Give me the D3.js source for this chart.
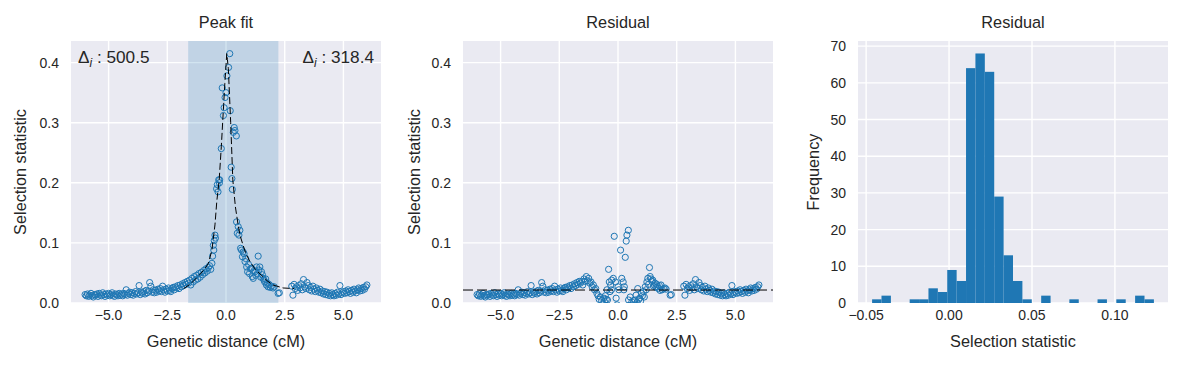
<!DOCTYPE html>
<html><head><meta charset="utf-8">
<script src="https://cdn.jsdelivr.net/npm/d3@7"></script>
<style>
body{margin:0;background:#fff}
svg text{font-family:"Liberation Sans",Arial,sans-serif;fill:#262626}
</style>
</head><body>
<svg id="chart" width="1182" height="368"></svg>
<script>
// ---------------- data ----------------
const genDist = [
 -6.00,-5.95,-5.90,-5.85,-5.80,-5.75,-5.70,-5.65,-5.60,-5.55,-5.50,-5.45,-5.40,-5.35,-5.30,-5.25,-5.20,-5.15,-5.10,-5.05,-5.00,-4.95,-4.90,-4.85,-4.80,-4.75,-4.70,-4.65,-4.60,-4.55,
 -4.50,-4.45,-4.40,-4.35,-4.30,-4.25,-4.20,-4.15,-4.10,-4.05,-4.00,-3.95,-3.90,-3.85,-3.80,-3.75,-3.70,-3.65,-3.60,-3.55,-3.50,-3.45,-3.40,-3.35,-3.30,-3.25,-3.20,-3.15,-3.10,-3.05,
 -3.00,-2.95,-2.90,-2.85,-2.80,-2.75,-2.70,-2.65,-2.60,-2.55,-2.50,-2.45,-2.40,-2.35,-2.30,-2.25,-2.20,-2.15,-2.10,-2.05,-2.00,-1.95,-1.90,-1.85,-1.80,-1.75,-1.70,-1.65,
 -1.60,-1.55,-1.50,-1.45,-1.40,-1.35,-1.30,-1.25,-1.20,-1.15,-1.10,-1.05,-1.00,-0.95,-0.90,-0.85,-0.80,-0.75,-0.70,-0.65,-0.60,-0.57,-0.54,-0.52,-0.50,-0.47,-0.45,
 -0.40,-0.37,-0.34,-0.31,-0.28,-0.27,-0.20,-0.16,-0.11,-0.08,-0.04,0.00,0.04,0.11,0.16,0.18,0.22,0.25,0.27,0.31,0.35,0.38,0.44,
 0.45,0.48,0.52,0.55,0.59,0.62,0.66,0.70,0.73,0.77,0.81,0.84,0.88,0.92,0.96,1.00,1.04,1.09,1.12,1.16,1.20,1.23,1.27,1.30,1.34,1.37,1.40,1.44,1.48,1.51,1.55,1.58,1.62,1.65,1.69,1.72,1.76,1.79,1.83,1.88,1.94,2.00,2.05,2.22,2.27,
 2.80,2.85,2.90,2.95,3.00,3.05,3.10,3.15,3.20,3.25,3.30,3.35,3.40,3.45,3.50,3.55,3.60,3.65,3.70,3.75,3.80,3.85,3.90,3.95,4.00,4.05,4.10,4.15,4.20,4.25,4.30,4.35,4.40,4.45,4.50,4.55,4.60,4.65,4.70,4.75,4.80,4.85,4.90,4.95,5.00,5.05,5.10,5.15,5.20,5.25,5.30,5.35,5.40,5.45,5.50,5.55,5.60,5.65,5.70,5.75,5.80,5.85,5.90,5.95,6.00
];
const selStat = [
 0.014,0.012,0.015,0.011,0.013,0.016,0.012,0.010,0.014,0.013,0.015,0.011,0.016,0.013,0.012,0.017,0.014,0.011,0.015,0.013,0.016,0.012,0.014,0.017,0.013,0.011,0.015,0.014,0.012,0.016,
 0.013,0.015,0.012,0.016,0.014,0.022,0.013,0.016,0.018,0.014,0.017,0.013,0.016,0.019,0.015,0.017,0.029,0.014,0.018,0.016,0.019,0.015,0.021,0.017,0.020,0.034,0.028,0.018,0.022,0.017,
 0.021,0.018,0.023,0.020,0.024,0.019,0.028,0.022,0.018,0.023,0.020,0.025,0.021,0.019,0.024,0.026,0.022,0.027,0.025,0.029,0.024,0.030,0.027,0.032,0.029,0.034,0.031,0.036,
 0.033,0.038,0.030,0.041,0.035,0.044,0.038,0.046,0.040,0.049,0.043,0.051,0.047,0.054,0.050,0.057,0.053,0.059,0.062,0.056,0.066,0.078,0.096,0.088,0.104,0.113,0.108,
 0.190,0.197,0.185,0.205,0.200,0.205,0.257,0.358,0.312,0.325,0.342,0.350,0.378,0.392,0.415,0.320,0.226,0.207,0.189,0.284,0.292,0.287,0.278,
 0.135,0.116,0.127,0.113,0.121,0.091,0.088,0.077,0.085,0.082,0.069,0.074,0.060,0.052,0.064,0.049,0.057,0.058,0.044,0.041,0.054,0.052,0.046,0.060,0.049,0.078,0.055,0.060,0.043,0.052,0.047,0.041,0.038,0.035,0.040,0.030,0.033,0.027,0.031,0.026,0.028,0.025,0.027,0.016,0.017,
 0.028,0.013,0.031,0.024,0.027,0.021,0.029,0.025,0.032,0.022,0.039,0.027,0.024,0.034,0.029,0.022,0.026,0.020,0.028,0.023,0.019,0.025,0.021,0.018,0.023,0.017,0.020,0.015,0.019,0.014,0.018,0.013,0.016,0.012,0.017,0.014,0.012,0.016,0.013,0.018,0.015,0.029,0.014,0.017,0.019,0.016,0.020,0.017,0.022,0.019,0.016,0.021,0.018,0.023,0.020,0.017,0.022,0.025,0.020,0.024,0.021,0.026,0.023,0.027,0.030
];
const residual = [
 0.014,0.012,0.015,0.011,0.013,0.016,0.012,0.010,0.014,0.013,0.015,0.011,0.016,0.013,0.012,0.017,0.014,0.011,0.015,0.013,0.016,0.012,0.014,0.017,0.013,0.011,0.015,0.014,0.012,0.016,
 0.013,0.015,0.012,0.016,0.014,0.022,0.013,0.016,0.018,0.014,0.017,0.013,0.016,0.019,0.015,0.017,0.029,0.014,0.018,0.016,0.019,0.015,0.021,0.017,0.020,0.034,0.028,0.018,0.022,0.017,
 0.021,0.018,0.023,0.020,0.024,0.019,0.028,0.022,0.018,0.023,0.020,0.025,0.021,0.019,0.024,0.026,0.022,0.027,0.025,0.029,0.024,0.030,0.027,0.032,0.029,0.034,0.031,0.036,
 0.033,0.036,0.030,0.040,0.036,0.044,0.037,0.041,0.033,0.035,0.027,0.030,0.022,0.024,0.016,0.012,0.006,0.010,0.004,-0.002,0.008,0.002,0.012,-0.004,0.006,0.022,0.005,
 0.056,0.035,0.019,0.030,0.022,0.038,0.041,0.111,0.035,0.008,-0.003,0.027,0.022,0.088,0.041,-0.010,0.035,0.022,0.027,0.076,0.103,0.113,0.121,
 0.005,-0.004,0.010,-0.006,0.002,-0.008,0.004,-0.003,0.005,0.013,0.001,0.024,0.006,0.008,0.003,0.016,0.012,0.019,0.010,0.027,0.022,0.035,0.041,0.031,0.059,0.044,0.040,0.036,0.038,0.028,0.030,0.033,0.026,0.031,0.027,0.024,0.029,0.021,0.030,0.022,0.024,0.025,0.023,0.013,0.014,
 0.028,0.013,0.031,0.024,0.027,0.021,0.029,0.025,0.032,0.022,0.039,0.027,0.024,0.034,0.029,0.022,0.026,0.020,0.028,0.023,0.019,0.025,0.021,0.018,0.023,0.017,0.020,0.015,0.019,0.014,0.018,0.013,0.016,0.012,0.017,0.014,0.012,0.016,0.013,0.018,0.015,0.029,0.014,0.017,0.019,0.016,0.020,0.017,0.022,0.019,0.016,0.021,0.018,0.023,0.020,0.017,0.022,0.025,0.020,0.024,0.021,0.026,0.023,0.027,0.030
];
// fitted peak (dashed curve), drawn over the fitted window
const fitX = [-1.8,-1.5,-1.3,-1.1,-0.9,-0.75,-0.6,-0.47,-0.39,-0.29,-0.2,-0.1,-0.05,0.0,0.03,0.06,0.1,0.15,0.2,0.29,0.4,0.52,0.6,0.73,0.85,1.02,1.25,1.51,1.75,2.0,2.43,2.9];
const fitY = [0.024,0.032,0.040,0.048,0.057,0.066,0.088,0.13,0.17,0.205,0.26,0.33,0.365,0.395,0.415,0.405,0.39,0.345,0.30,0.205,0.16,0.129,0.112,0.096,0.082,0.069,0.056,0.046,0.037,0.030,0.025,0.024];
const spanRange = [-1.61, 2.23];
const deltaLeft = 500.5, deltaRight = 318.4;
const residBaseline = 0.0216;
// histogram of residuals
const histRange = [-0.0464, 0.1235];
const histCounts = [1,2,0,0,1,1,4,3,9,6,64,68,63,29,13,6,1,0,2,0,0,1,0,0,1,0,1,0,2,1];
// ticks
const distTicks = [-5, -2.5, 0, 2.5, 5];
const statTicks = [0, 0.1, 0.2, 0.3, 0.4];
const histXTicks = [-0.05, 0, 0.05, 0.10];
const freqTicks = [0, 10, 20, 30, 40, 50, 60, 70];

// ---------------- drawing ----------------
const BLUE = "#1f77b4";
const svg = d3.select("#chart");
const boxes = [
  {l:71, t:41, w:310, h:262},
  {l:463, t:41, w:310, h:262},
  {l:858, t:41, w:310, h:262}
];
const TICK_FS = 14, LAB_FS = 16.3;

function frame(i, x, y, xt, yt, xf, yf, title, xlabel, ylabel, ylabOff){
  const b = boxes[i];
  const g = svg.append("g");
  g.append("rect").attr("x", b.l).attr("y", b.t).attr("width", b.w).attr("height", b.h).attr("fill", "#eaeaf2");
  g.selectAll(".gx").data(xt).join("line")
    .attr("x1", d => x(d)).attr("x2", d => x(d)).attr("y1", b.t).attr("y2", b.t + b.h)
    .attr("stroke", "#fff").attr("stroke-width", 1.4);
  g.selectAll(".gy").data(yt).join("line")
    .attr("y1", d => y(d)).attr("y2", d => y(d)).attr("x1", b.l).attr("x2", b.l + b.w)
    .attr("stroke", "#fff").attr("stroke-width", 1.4);
  g.selectAll(".tx").data(xt).join("text")
    .attr("x", d => x(d)).attr("y", b.t + b.h + 6).attr("dy", "0.76em")
    .attr("text-anchor", "middle").attr("font-size", TICK_FS).text(xf);
  g.selectAll(".ty").data(yt).join("text")
    .attr("x", b.l - 12).attr("y", d => y(d)).attr("dy", "0.36em")
    .attr("text-anchor", "end").attr("font-size", TICK_FS).text(yf);
  g.append("text").attr("x", b.l + b.w/2).attr("y", 28).attr("text-anchor", "middle")
    .attr("font-size", LAB_FS).text(title);
  g.append("text").attr("x", b.l + b.w/2).attr("y", 347).attr("text-anchor", "middle")
    .attr("font-size", LAB_FS).text(xlabel);
  g.append("text").attr("transform", `translate(${b.l - ylabOff},${b.t + b.h/2}) rotate(-90)`)
    .attr("text-anchor", "middle").attr("dy", "0.35em").attr("font-size", LAB_FS).text(ylabel);
  const cid = "clip" + i;
  svg.append("clipPath").attr("id", cid).append("rect")
    .attr("x", b.l).attr("y", b.t).attr("width", b.w).attr("height", b.h);
  return svg.append("g").attr("clip-path", `url(#${cid})`);
}

const fmt1 = d3.format(".1f"), fmt2 = d3.format(".2f"), fmt0 = d3.format("d");
const pts = genDist.map((d, i) => ({x: d, y: selStat[i], r: residual[i]}));
const fit = fitX.map((d, i) => ({x: d, y: fitY[i]}));

// Panel 1: Peak fit
{
  const b = boxes[0];
  const x = d3.scaleLinear().domain([-6.6, 6.6]).range([b.l, b.l + b.w]);
  const y = d3.scaleLinear().domain([0, 0.436]).range([b.t + b.h, b.t]);
  const g = frame(0, x, y, distTicks, statTicks, fmt1, fmt1, "Peak fit", "Genetic distance (cM)", "Selection statistic", 51);
  g.append("rect").attr("x", x(spanRange[0])).attr("width", x(spanRange[1]) - x(spanRange[0]))
    .attr("y", b.t).attr("height", b.h).attr("fill", BLUE).attr("fill-opacity", 0.2);
  g.selectAll("circle").data(pts).join("circle")
    .attr("cx", d => x(d.x)).attr("cy", d => y(d.y)).attr("r", 3.1)
    .attr("fill", "none").attr("stroke", BLUE).attr("stroke-width", 1);
  g.append("path").datum(fit)
    .attr("d", d3.line().x(d => x(d.x)).y(d => y(d.y)))
    .attr("fill", "none").attr("stroke", "#000").attr("stroke-width", 1).attr("stroke-dasharray", "7,3");
  const ann = (tx, anchor, val) => {
    const t = svg.append("text").attr("x", tx).attr("y", b.t + 22).attr("text-anchor", anchor).attr("font-size", 17.2);
    t.append("tspan").text("Δ");
    t.append("tspan").attr("font-style", "italic").attr("font-size", 12).attr("dy", 4).text("i");
    t.append("tspan").attr("dy", -4).text(" : " + fmt1(val));
  };
  ann(b.l + 7, "start", deltaLeft);
  ann(b.l + b.w - 7, "end", deltaRight);
}

// Panel 2: Residual scatter
{
  const b = boxes[1];
  const x = d3.scaleLinear().domain([-6.6, 6.6]).range([b.l, b.l + b.w]);
  const y = d3.scaleLinear().domain([0, 0.436]).range([b.t + b.h, b.t]);
  const g = frame(1, x, y, distTicks, statTicks, fmt1, fmt1, "Residual", "Genetic distance (cM)", "Selection statistic", 49);
  g.selectAll("circle").data(pts).join("circle")
    .attr("cx", d => x(d.x)).attr("cy", d => y(d.r)).attr("r", 3.1)
    .attr("fill", "none").attr("stroke", BLUE).attr("stroke-width", 1);
  g.append("line").attr("x1", b.l).attr("x2", b.l + b.w)
    .attr("y1", y(residBaseline)).attr("y2", y(residBaseline))
    .attr("stroke", "#000").attr("stroke-width", 1).attr("stroke-dasharray", "10,4");
}

// Panel 3: Histogram
{
  const b = boxes[2];
  const x = d3.scaleLinear().domain([-0.0549, 0.1320]).range([b.l, b.l + b.w]);
  const y = d3.scaleLinear().domain([0, 71.4]).range([b.t + b.h, b.t]);
  const g = frame(2, x, y, histXTicks, freqTicks, fmt2, fmt0, "Residual", "Selection statistic", "Frequency", 45);
  const n = histCounts.length;
  const bw = (histRange[1] - histRange[0]) / n;
  const bins = histCounts.map((c, i) => ({x0: histRange[0] + i * bw, x1: histRange[0] + (i + 1) * bw, c}));
  g.selectAll("rect.bar").data(bins.filter(d => d.c > 0)).join("rect").attr("class", "bar")
    .attr("x", d => x(d.x0)).attr("width", d => x(d.x1) - x(d.x0))
    .attr("y", d => y(d.c)).attr("height", d => y(0) - y(d.c))
    .attr("fill", BLUE);
}
</script>
</body></html>
